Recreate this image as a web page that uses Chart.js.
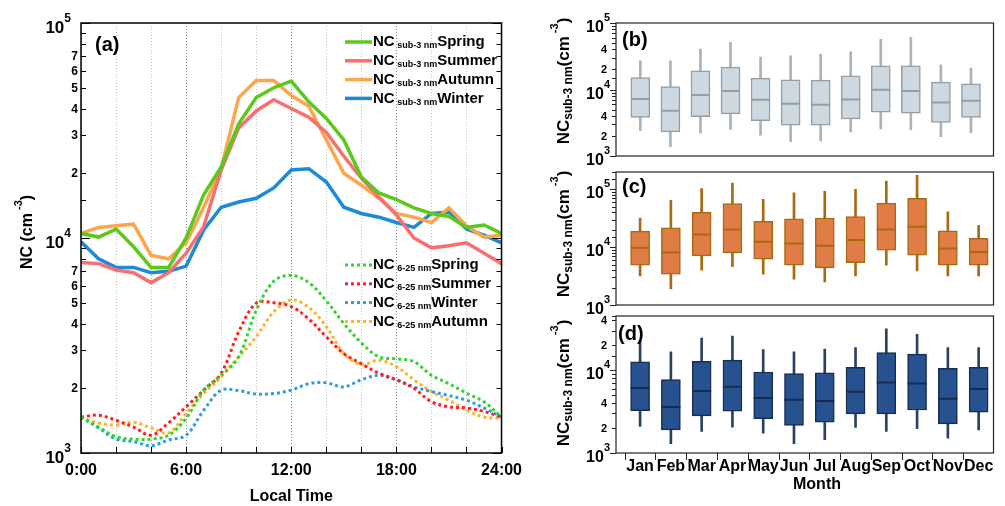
<!DOCTYPE html>
<html>
<head>
<meta charset="utf-8">
<script src="https://cdn.jsdelivr.net/npm/chart.js"></script>
<style>
body { margin: 0; background: #fff; width: 1005px; height: 506px; position: relative; overflow: hidden; }
canvas { position: absolute; }
</style>
</head>
<body>
<canvas id="chartA" width="530" height="506" style="left:0;top:0"></canvas>
<canvas id="chartB" width="475" height="170" style="left:530px;top:0"></canvas>
<canvas id="chartC" width="475" height="165" style="left:530px;top:160px"></canvas>
<canvas id="chartD" width="475" height="206" style="left:530px;top:300px"></canvas>
<script>
// ---- data: diurnal cycle (a) ----
const hours = [0,1,2,3,4,5,6,7,8,9,10,11,12,13,14,15,16,17,18,19,20,21,22,23,24];
const springSub = [10500,10100,11000,9100,7300,7300,10000,15900,21400,34000,45000,50000,53700,43000,36000,28600,19200,16200,15100,13800,13000,12600,11200,11500,10500];
const summerSub = [7700,7600,7100,6900,6200,6900,8500,11300,20700,32500,39000,44000,40000,36500,31000,24000,19000,15500,12800,10000,9000,9200,9500,8500,7600];
const autumnSub = [10500,11200,11400,11600,8300,8000,9500,13900,21000,45000,54000,54000,46000,41000,28600,20000,17600,15300,13000,12500,11800,13800,11400,10100,10300];
const winterSub = [9600,8000,7300,7300,6900,7000,7400,10900,13900,14700,15300,17100,20700,21000,18200,13900,13000,12500,11800,11200,13000,13200,11000,10300,9500];
const springNuc = [1470,1320,1190,1160,1160,1210,1450,1960,2300,2800,4600,6300,6700,6200,5100,4000,3250,2800,2740,2660,2300,2100,1900,1730,1470];
const summerNuc = [1470,1500,1420,1320,1210,1380,1640,1960,2350,3660,4980,5000,4800,4200,3470,2900,2600,2350,2190,2000,1730,1640,1620,1560,1470];
const winterNuc = [1470,1310,1160,1130,1080,1150,1210,1580,1960,1950,1880,1890,1960,2100,2120,2030,2190,2300,2190,2030,1930,1850,1760,1620,1470];
const autumnNuc = [1470,1380,1350,1390,1310,1240,1530,1890,2260,2800,3470,4540,5150,4750,3870,2900,2580,2700,2520,2190,1930,1760,1580,1470,1450];
const aTickDigits = [2,3,4,5,6,7];

// ---- data: monthly box plots (b, c, d) ----
const months = [1,2,3,4,5,6,7,8,9,10,11,12];
const monthNames = ['Jan','Feb','Mar','Apr','May','Jun','Jul','Aug','Sep','Oct','Nov','Dec'];
const bMax = [27000,27000,40500,51000,30700,32000,34000,36900,57000,61000,23500,21000];
const bQ3  = [15100,11100,19100,21700,14800,14000,13800,16100,22700,22700,12900,12200];
const bMed = [7200,4800,8300,9500,7000,6100,5900,7100,9900,9500,6400,6800];
const bQ1  = [3800,2300,3900,4300,3400,2900,2900,3600,4550,4400,3200,3800];
const bMin = [2400,1380,2200,2500,2050,1640,1680,2300,2550,2470,1950,2250];
const cMax = [32000,65000,103000,129000,67000,87000,93000,100000,139000,176000,41000,24000];
const cQ3  = [19000,21600,40000,57000,28000,31000,32000,34000,58000,70000,19200,14200];
const cMed = [9800,8100,16600,20300,12400,11600,10600,13300,20300,22500,9500,8300];
const cQ1  = [4900,3400,7100,8000,6200,4900,4400,5400,8900,7300,4900,4900];
const cMin = [3200,1900,4000,4600,3400,2800,2500,3200,4900,3900,3200,3200];
const dMax = [21900,16600,24400,25800,17700,16600,17900,18700,31600,27000,18700,18700];
const dQ3  = [12600,7700,12800,13200,9500,9100,9300,10800,16300,15600,10500,10800];
const dMed = [6100,3600,5600,6300,4600,4400,4250,5500,7100,6900,4500,5900];
const dQ1  = [3250,1900,2800,3200,2600,2150,2360,2960,2960,3300,2250,3100];
const dMin = [2090,1300,1820,2050,1740,1300,1450,2030,1820,1960,1510,1900];

const fam = '"Liberation Sans", Arial, sans-serif';
function bold(px) { return 'bold ' + px + 'px ' + fam; }

// 위첨자/아래첨자 섞인 텍스트 그리기: parts = [텍스트, 크기, y오프셋]
function richText(ctx, parts, x, y, align) {
	let total = 0;
	const widths = parts.map(p => {
		ctx.font = bold(p[1]);
		const w = ctx.measureText(p[0]).width;
		total += w;
		return w;
	});
	let cx = align === 'right' ? x - total : (align === 'center' ? x - total / 2 : x);
	ctx.textAlign = 'left';
	ctx.textBaseline = 'middle';
	ctx.fillStyle = '#000';
	parts.forEach((p, i) => {
		ctx.font = bold(p[1]);
		ctx.fillText(p[0], cx, y + (p[2] || 0));
		cx += widths[i];
	});
}

function mantissa(v) {
	const e = Math.floor(Math.log10(v) + 1e-9);
	return { m: v / Math.pow(10, e), e: e };
}
function isInt(m) { return Math.abs(m - Math.round(m)) < 1e-6; }

function seg(ctx, x1, y1, x2, y2) {
	ctx.beginPath();
	ctx.moveTo(x1, y1);
	ctx.lineTo(x2, y2);
	ctx.stroke();
}

// ---- 패널 (a) ----
function lineSet(season, size, values, color, dotted) {
	return {
		label: season,
		season: season,
		sizeLabel: size,
		data: values.map((v, i) => ({ x: hours[i], y: v })),
		borderColor: color,
		borderWidth: dotted ? 3 : 3.5,
		borderDash: dotted ? [3, 3] : [],
		borderCapStyle: 'butt',
		pointRadius: 0,
		tension: dotted ? 0.35 : 0,
		fill: false
	};
}

const solidSets = [
	lineSet('Spring', ' sub-3 nm', springSub, '#5cc81a', false),
	lineSet('Summer', ' sub-3 nm', summerSub, '#f76f6f', false),
	lineSet('Autumn', ' sub-3 nm', autumnSub, '#fca54a', false),
	lineSet('Winter', ' sub-3 nm', winterSub, '#1c8ad6', false)
];
const dottedSets = [
	lineSet('Spring', ' 6-25 nm', springNuc, '#2fd42f', true),
	lineSet('Summer', ' 6-25 nm', summerNuc, '#ff1f1f', true),
	lineSet('Winter', ' 6-25 nm', winterNuc, '#2a9de3', true),
	lineSet('Autumn', ' 6-25 nm', autumnNuc, '#ffb22a', true)
];

const panelAPlugin = {
	id: 'panelA',
	afterDraw(chart) {
		const { ctx, chartArea: a, scales: { x, y } } = chart;
		ctx.save();
		ctx.strokeStyle = '#000';
		ctx.lineWidth = 1;
		// y축 눈금 + 라벨
		y.ticks.forEach(t => {
			const py = Math.round(y.getPixelForValue(t.value)) + 0.5;
			const mt = mantissa(t.value);
			const major = isInt(mt.m) && Math.round(mt.m) === 1;
			const len = major ? 9 : 5;
			seg(ctx, a.left, py, a.left + len, py);
			seg(ctx, a.right, py, a.right - len, py);
			if (major) {
				richText(ctx, [['10', 17, 5], [String(mt.e), 12, -5]], 71, py, 'right');
			} else if (isInt(mt.m) && aTickDigits.includes(Math.round(mt.m))) {
				richText(ctx, [[String(Math.round(mt.m)), 12, 0]], 78, py, 'right');
			}
		});
		// x축 안쪽 눈금
		x.ticks.forEach(t => {
			const px = Math.round(x.getPixelForValue(t.value)) + 0.5;
			seg(ctx, px, a.bottom, px, a.bottom - 6);
		});
		// 테두리
		ctx.lineWidth = 1.5;
		ctx.strokeRect(a.left, a.top, a.right - a.left, a.bottom - a.top);

		// 범례
		const drawLegend = (sets, y0) => {
			sets.forEach((ds, i) => {
				const ly = y0 + i * 18.8;
				ctx.save();
				ctx.strokeStyle = ds.borderColor;
				ctx.lineWidth = ds.borderWidth;
				ctx.setLineDash(ds.borderDash);
				seg(ctx, 345, ly, 372, ly);
				ctx.restore();
				richText(ctx, [['NC', 15, 0], [ds.sizeLabel, 9, 4], [ds.season, 15, 0]], 373, ly, 'left');
			});
		};
		drawLegend(solidSets, 42);
		drawLegend(dottedSets, 265);

		// 패널 라벨, 축 제목
		richText(ctx, [['(a)', 20, 0]], 95, 45, 'left');
		richText(ctx, [['Local Time', 16, 0]], (a.left + a.right) / 2, 497, 'center');
		ctx.save();
		ctx.translate(28, 232);
		ctx.rotate(-Math.PI / 2);
		richText(ctx, [['NC (cm', 16, 0], [' -3', 11, -9], [')', 16, 0]], 0, 0, 'center');
		ctx.restore();
		ctx.restore();
	}
};

new Chart(document.getElementById('chartA'), {
	type: 'line',
	data: { datasets: solidSets.concat(dottedSets) },
	options: {
		responsive: false,
		animation: false,
		devicePixelRatio: 1,
		layout: { padding: { top: 23, right: 27, left: 0, bottom: 0 } },
		plugins: { legend: { display: false }, tooltip: { enabled: false } },
		scales: {
			x: {
				type: 'linear', min: 0, max: 24,
				afterFit: s => { s.height = 53; },
				ticks: {
					stepSize: 2, autoSkip: false, maxRotation: 0, padding: 8, color: '#000',
					font: { family: fam, size: 16, weight: 'bold' },
					callback: v => (v % 6 === 0 ? v + ':00' : '')
				},
				grid: {
					drawTicks: false, lineWidth: 1,
					color: c => (c.tick && c.tick.value % 6 === 0 ? '#8a8a8a' : '#c4c4c4')
				},
				border: { display: false, dash: [1, 2] }
			},
			y: {
				type: 'logarithmic', min: 1000, max: 100000,
				afterFit: s => { s.width = 81; },
				ticks: { display: false },
				grid: { display: false },
				border: { display: false }
			}
		}
	},
	plugins: [panelAPlugin]
});

// ---- 패널 (b)(c)(d) 박스플롯 ----
const boxPanelPlugin = {
	id: 'boxPanel',
	afterDraw(chart, args, o) {
		const { ctx, chartArea: a, scales: { x, y } } = chart;
		ctx.save();
		ctx.strokeStyle = '#222';
		ctx.lineWidth = 1;
		y.ticks.forEach(t => {
			const py = Math.round(y.getPixelForValue(t.value)) + 0.5;
			const mt = mantissa(t.value);
			const major = isInt(mt.m) && Math.round(mt.m) === 1;
			seg(ctx, a.left, py, a.left - (major ? 6 : 4), py);
			if (major) {
				richText(ctx, [['10', 16, 4], [String(mt.e), 11, -6]], 80, py, 'right');
			} else if (isInt(mt.m) && o.digits.includes(Math.round(mt.m))) {
				richText(ctx, [[String(Math.round(mt.m)), 11, 0]], 77, py, 'right');
			}
		});
		ctx.lineWidth = 1.2;
		ctx.strokeRect(a.left, a.top, a.right - a.left, a.bottom - a.top);
		richText(ctx, [[o.letter, 20, 0]], o.letterX, o.letterY, 'left');
		if (o.monthAxis) {
			ctx.lineWidth = 1;
			months.forEach((m, i) => {
				const px = Math.round(x.getPixelForValue(m - 0.5)) + 0.5;
				seg(ctx, px, a.bottom, px, a.bottom + 7);
				richText(ctx, [[monthNames[i], 16, 0]], x.getPixelForValue(m), a.bottom + 14, 'center');
			});
			richText(ctx, [['Month', 16, 0]], 287, a.bottom + 32, 'center');
		}
		ctx.save();
		ctx.translate(34, o.titleY);
		ctx.rotate(-Math.PI / 2);
		richText(ctx, [['NC', 17, 0], ['sub-3 nm', 12, 5], ['(cm', 17, 0], [' -3', 11, -9], [')', 17, 0]], 0, 0, 'center');
		ctx.restore();
		ctx.restore();
	}
};

function boxChart(id, p) {
	return new Chart(document.getElementById(id), {
		type: 'bar',
		data: {
			datasets: [
				{
					data: months.map((m, i) => ({ x: m, y: [p.lo[i], p.hi[i]] })),
					backgroundColor: p.whisker, borderWidth: 0,
					barThickness: 2, grouped: false, order: 3
				},
				{
					data: months.map((m, i) => ({ x: m, y: [p.q1[i], p.q3[i]] })),
					backgroundColor: p.fill, borderColor: p.edge, borderWidth: 1.5,
					borderSkipped: false, barThickness: 19, grouped: false, order: 2
				},
				{
					type: 'line',
					data: months.map((m, i) => ({ x: m, y: p.med[i] })),
					showLine: false, pointStyle: 'line', pointRadius: 9.5,
					pointBorderColor: p.edge, pointBorderWidth: 2, order: 1
				}
			]
		},
		options: {
			responsive: false,
			animation: false,
			devicePixelRatio: 1,
			layout: { padding: { top: p.top, right: 2, left: 0, bottom: 0 } },
			plugins: { legend: { display: false }, tooltip: { enabled: false }, boxPanel: p.panel },
			scales: {
				x: {
					type: 'linear', min: p.xmin, max: p.xmax, offset: false,
					afterFit: s => { s.height = p.xh; },
					ticks: { display: false },
					grid: { display: false },
					border: { display: false }
				},
				y: {
					type: 'logarithmic', min: 1000, max: p.ymax,
					afterFit: s => { s.width = 86; },
					ticks: { display: false },
					grid: { display: false },
					border: { display: false }
				}
			}
		},
		plugins: [boxPanelPlugin]
	});
}

boxChart('chartB', {
	lo: bMin, q1: bQ1, med: bMed, q3: bQ3, hi: bMax,
	fill: '#cdd8e0', edge: '#959ea5', whisker: '#aab3ba',
	top: 23, xh: 14, xmin: 0.19, xmax: 12.75, ymax: 100000,
	panel: { letter: '(b)', letterX: 92, letterY: 40, titleY: 81, digits: [2, 4], monthAxis: false }
});
boxChart('chartC', {
	lo: cMin, q1: cQ1, med: cMed, q3: cQ3, hi: cMax,
	fill: '#e07c45', edge: '#a86a10', whisker: '#a86a10',
	top: 12, xh: 20, xmin: 0.217, xmax: 12.483, ymax: 200000,
	panel: { letter: '(c)', letterX: 92, letterY: 27, titleY: 74, digits: [], monthAxis: false }
});
boxChart('chartD', {
	lo: dMin, q1: dQ1, med: dMed, q3: dQ3, hi: dMax,
	fill: '#285190', edge: '#162d50', whisker: '#2a4262',
	top: 16, xh: 53, xmin: 0.217, xmax: 12.483, ymax: 45000,
	panel: { letter: '(d)', letterX: 88, letterY: 34, titleY: 83, digits: [2, 4], monthAxis: true }
});
</script>
</body>
</html>
